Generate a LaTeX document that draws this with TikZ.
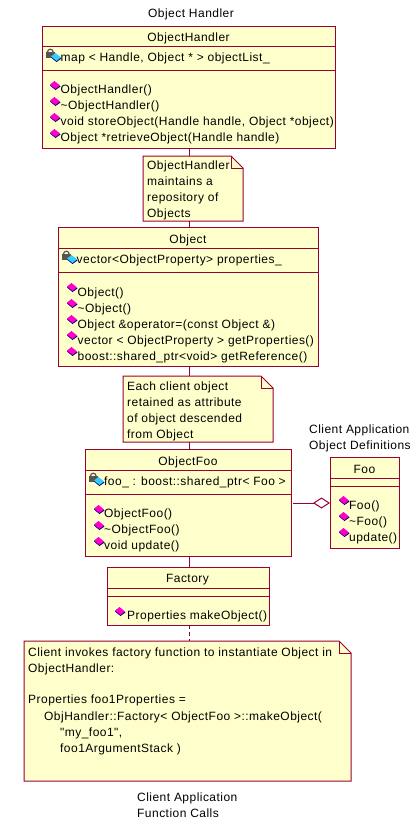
\documentclass[tikz,border=0pt]{standalone}
\usepackage{fontspec}
\newfontfamily\umlfont[LetterSpace=3.9]{Liberation Sans}
\usetikzlibrary{arrows.meta}
\definecolor{umlline}{HTML}{990033}
\definecolor{umlfill}{HTML}{FFFFCC}
\definecolor{opcolor}{HTML}{FF00CC}
\definecolor{attrcolor}{HTML}{33CCFF}
\definecolor{iconshade}{HTML}{000066}
\definecolor{lockcolor}{HTML}{555555}
\def\flabel{\umlfont\fontsize{12}{16}\selectfont}

% operation marker
\def\opicon(#1,#2){
  \fill[iconshade] (#1-5,#2+0.5) -- (#1-0.5,#2-3) -- (#1+5.5,#2+1.5) -- (#1+0.5,#2+5) -- cycle;
  \fill[opcolor] (#1-5,#2-0.5) -- (#1-0.5,#2-4) -- (#1+5,#2+0.5) -- (#1+0.5,#2+4) -- cycle;
}
% private attribute marker
\def\attricon(#1,#2){
  \draw[lockcolor,line width=1.2] (#1-8.5,#2-5) arc (180:360:2.8);
  \fill[lockcolor] (#1-10.5,#2-5) rectangle (#1-1.5,#2+1);
  \fill[iconshade] (#1-5,#2+0.5) -- (#1-0.5,#2-3) -- (#1+5.5,#2+1.5) -- (#1+0.5,#2+5) -- cycle;
  \fill[attrcolor] (#1-5,#2-0.5) -- (#1-0.5,#2-4) -- (#1+5,#2+0.5) -- (#1+0.5,#2+4) -- cycle;
}

\begin{document}
\begin{tikzpicture}[x=1pt,y=-1pt,
    umledge/.style={draw=umlline,line width=1pt},
    umlnote/.style={umledge,fill=umlfill},
    classbox/.style={umlnote,anchor=north west,inner sep=0,outer sep=0},
    classtitle/.style={font=\flabel,inner sep=0,anchor=base},
    member/.style={font=\flabel,inner sep=0,anchor=base west},
    caption/.style={font=\flabel,inner sep=0,anchor=base west}
    ]
    \useasboundingbox (0,0) rectangle (415,820);
    \coordinate (axis) at (189,0);
    \coordinate (aggr) at (0,503);

    % ObjectHandler
    \node (handlerlabel) [classtitle] at (191,17) {Object Handler};
    \node (handler) [classbox,minimum width=293,minimum height=122] at (42,26) {};
    \node (handlertitle) [classtitle] at (188.5,41) {ObjectHandler};
    \draw[umledge] (42,46) -- (335,46) (42,70) -- (335,70);
    \attricon(56,57)
    \node (handlerattr) [member] at (60.5,61) {map < Handle, Object * > objectList\_};
    \foreach \y/\name/\txt in {93/a/ObjectHandler(),109/b/\textasciitilde ObjectHandler(),
      125/c/{void storeObject(Handle handle, Object *object)},
      141/d/{Object *retrieveObject(Handle handle)}} {
      \opicon(55,\y-8)
      \node (handlerop\name) [member] at (60.5,\y) {\txt};
    }

    % first note
    \draw[umlnote] (143,156) -- (231,156) -- (243,168) -- (243,221) -- (143,221) -- cycle;
    \draw[umledge] (231,156) -- (231,168) -- (243,168);
    \node (handlernote) [inner sep=0,outer sep=0,minimum width=100,minimum height=65,anchor=north west] at (143,156) {};
    \foreach \y/\name/\txt in {169/a/ObjectHandler,185/b/maintains a,201/c/repository of,217/d/Objects}
      \node (handlernote\name) [member] at (147,\y) {\txt};

    % Object
    \node (object) [classbox,minimum width=260,minimum height=139] at (58,227) {};
    \node (objecttitle) [classtitle] at (188,243) {Object};
    \draw[umledge] (58,248) -- (318,248) (58,272) -- (318,272);
    \attricon(72,259)
    \node (objectattr) [member] at (76.5,263) {vector<ObjectProperty> properties\_};
    \foreach \y/\name/\txt in {296/a/Object(),312/b/\textasciitilde Object(),
      328/c/Object \&operator=(const Object \&),
      344/d/vector < ObjectProperty > getProperties(),
      360/e/boost::shared\_ptr<void> getReference()} {
      \opicon(72,\y-9)
      \node (objectop\name) [member] at (77.5,\y) {\txt};
    }

    % second note
    \draw[umlnote] (123,376) -- (261,376) -- (273,388) -- (273,442) -- (123,442) -- cycle;
    \draw[umledge] (261,376) -- (261,388) -- (273,388);
    \node (objectnote) [inner sep=0,outer sep=0,minimum width=150,minimum height=66,anchor=north west] at (123,376) {};
    \foreach \y/\name/\txt in {390/a/Each client object,406/b/retained as attribute,422/c/of object descended,438/d/from Object}
      \node (objectnote\name) [member] at (127,\y) {\txt};

    % ObjectFoo
    \node (objectfoo) [classbox,minimum width=206,minimum height=107] at (85,449) {};
    \node (objectfootitle) [classtitle] at (188,465) {ObjectFoo};
    \draw[umledge] (85,470) -- (291,470) (85,494) -- (291,494);
    \attricon(99,481)
    \node (objectfooattr) [member] at (104,485) {foo\_ : boost::shared\_ptr< Foo >};
    \foreach \y/\name/\txt in {517/a/ObjectFoo(),533/b/\textasciitilde ObjectFoo(),549/c/void update()} {
      \opicon(99,\y-8)
      \node (objectfooop\name) [member] at (104,\y) {\txt};
    }

    % Foo
    \node (defslabela) [caption] at (309,433) {Client Application};
    \node (defslabelb) [caption] at (309,449) {Object Definitions};
    \node (foo) [classbox,minimum width=69,minimum height=91] at (330,457) {};
    \node (footitle) [classtitle] at (364.5,473) {Foo};
    \draw[umledge] (330,478) -- (399,478) (330,486) -- (399,486);
    \foreach \y/\name/\txt in {509/a/Foo(),525/b/\textasciitilde Foo(),541/c/update()} {
      \opicon(344,\y-9)
      \node (fooop\name) [member] at (349,\y) {\txt};
    }

    % Factory
    \node (factory) [classbox,minimum width=162,minimum height=58] at (107,567) {};
    \node (factorytitle) [classtitle] at (187.5,582) {Factory};
    \draw[umledge] (107,588) -- (269,588) (107,596) -- (269,596);
    \opicon(120,611)
    \node (factoryop) [member] at (127,619) {Properties makeObject()};

    % client note
    \draw[umlnote] (24,641) -- (339,641) -- (351,653) -- (351,781) -- (24,781) -- cycle;
    \draw[umledge] (339,641) -- (339,653) -- (351,653);
    \node (clientnote) [inner sep=0,outer sep=0,minimum width=327,minimum height=140,anchor=north west] at (24,641) {};
    \foreach \x/\y/\name/\txt in {28/656/a/Client invokes factory function to instantiate Object in,
      28/672/b/ObjectHandler:,28/703/c/Properties foo1Properties =,
      44/720/d/ObjHandler::Factory< ObjectFoo >::makeObject(,
      60/736/e/"my\_foo1"{,},60/752/f/foo1ArgumentStack )}
      \node (clientnote\name) [member] at (\x,\y) {\txt};
    \node (calllabela) [caption] at (137,801) {Client Application};
    \node (calllabelb) [caption] at (137,817) {Function Calls};

    % connectors
    \draw[umledge] (handler.south -| axis) -- (handlernote.north -| axis);
    \draw[umledge] (handlernote.south -| axis) -- (object.north -| axis);
    \draw[umledge] (object.south -| axis) -- (objectnote.north -| axis);
    \draw[umledge] (objectnote.south -| axis) -- (objectfoo.north -| axis);
    \draw[umledge] (objectfoo.south -| axis) -- (factory.north -| axis);
    \draw[umledge,dash pattern=on 4pt off 3pt] (factory.south -| axis) -- (clientnote.north -| axis);
    \draw[umledge,-{Diamond[open,fill=white,length=17pt,width=11pt]}] ([xshift=2pt]objectfoo.east |- aggr) -- (foo.west |- aggr);
\end{tikzpicture}
\end{document}
